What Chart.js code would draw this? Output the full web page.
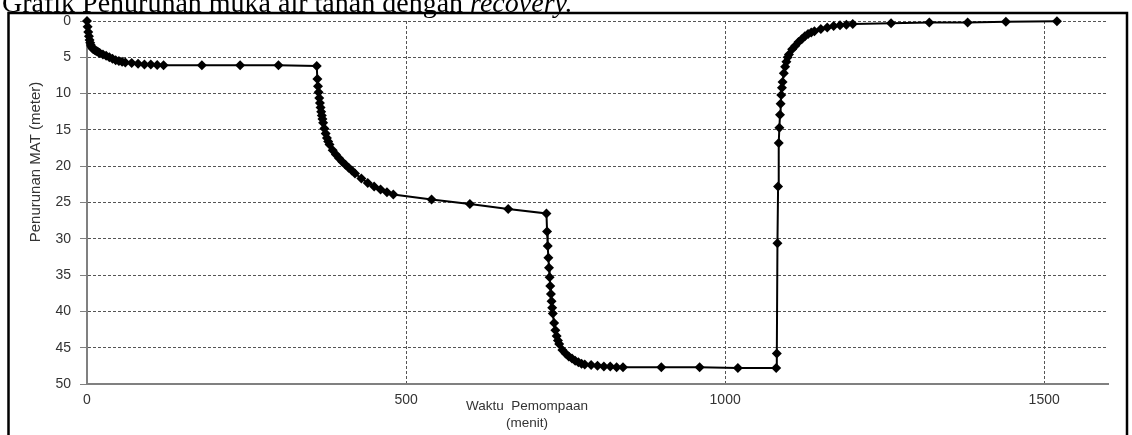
<!DOCTYPE html>
<html>
<head>
<meta charset="utf-8">
<script src="https://cdn.jsdelivr.net/npm/chart.js@4.4.1/dist/chart.umd.min.js"></script>
<style>
  html, body { margin: 0; padding: 0; background: #fff; }
  canvas { display: block; }
</style>
</head>
<body>
<canvas id="myChart" width="1132" height="435"></canvas>
<script>
// waktu pemompaan (menit) dan penurunan MAT (meter)
const waktu = [
  0, 1, 2, 3, 4, 5, 6, 7, 8, 9, 10, 12, 14, 16, 18, 20, 25, 30, 35, 40, 45, 50, 55, 60,
  70, 80, 90, 100, 110, 120, 180, 240, 300, 360,
  361, 362, 363, 364, 365, 366, 367, 368, 369, 370, 372, 374, 376, 378, 380,
  385, 390, 395, 400, 405, 410, 415, 420, 430, 440, 450, 460, 470, 480, 540, 600, 660, 720,
  721, 722, 723, 724, 725, 726, 727, 728, 729, 730, 732, 734, 736, 738, 740,
  745, 750, 755, 760, 765, 770, 775, 780, 790, 800, 810, 820, 830, 840, 900, 960, 1020, 1080,
  1081, 1082, 1083, 1084, 1085, 1086, 1087, 1088, 1089, 1090, 1092, 1094, 1096, 1098, 1100,
  1105, 1110, 1115, 1120, 1125, 1130, 1135, 1140, 1150, 1160, 1170, 1180, 1190, 1200,
  1260, 1320, 1380, 1440, 1520
];
const penurunan = [
  0, 0.8, 1.5, 2.1, 2.6, 3.0, 3.3, 3.5, 3.7, 3.8, 3.9, 4.0, 4.1, 4.2, 4.3, 4.4, 4.6, 4.8, 5.0, 5.2, 5.4, 5.5, 5.6, 5.7,
  5.8, 5.9, 6.0, 6.0, 6.05, 6.1, 6.1, 6.1, 6.1, 6.2,
  8.0, 9.0, 9.8, 10.6, 11.3, 11.9, 12.5, 13.0, 13.5, 14.0, 14.8, 15.5, 16.1, 16.6, 17.0,
  17.8, 18.4, 18.9, 19.4, 19.8, 20.2, 20.6, 21.0, 21.7, 22.3, 22.8, 23.2, 23.6, 23.9, 24.6, 25.2, 25.9, 26.5,
  29.0, 31.0, 32.6, 34.0, 35.3, 36.5, 37.6, 38.6, 39.5, 40.3, 41.6, 42.6, 43.4, 44.0, 44.5,
  45.3, 45.8, 46.2, 46.5, 46.8, 47.0, 47.2, 47.3, 47.4, 47.5, 47.6, 47.6, 47.7, 47.7, 47.7, 47.7, 47.8, 47.8,
  45.8, 30.6, 22.8, 16.8, 14.7, 12.9, 11.4, 10.2, 9.2, 8.4, 7.2, 6.3, 5.6, 5.0, 4.6,
  3.9, 3.4, 2.9, 2.5, 2.1, 1.8, 1.6, 1.4, 1.1, 0.9, 0.7, 0.6, 0.5, 0.4,
  0.3, 0.2, 0.2, 0.1, 0.05
];
const xTicks = [0, 500, 1000, 1500];
const yTicks = [0, 5, 10, 15, 20, 25, 30, 35, 40, 45, 50];

const judul = 'Grafik Penurunan muka air tanah dengan ';
const judulMiring = 'recovery.';
const judulY = 'Penurunan MAT (meter)';
const judulX = ['Waktu  Pemompaan', '(menit)'];

const points = waktu.map((t, i) => ({ x: t, y: penurunan[i] }));

const hiasan = {
  id: 'hiasan',
  beforeDraw(chart) {
    const c = chart.ctx;
    c.save();
    c.fillStyle = '#fff';
    c.fillRect(0, 0, chart.width, chart.height);
    c.restore();
  },
  afterDraw(chart) {
    const c = chart.ctx;
    c.save();
    // judul dokumen (terpotong di atas)
    c.fillStyle = '#000';
    c.textBaseline = 'alphabetic';
    c.font = '28px "Liberation Serif", "Times New Roman", serif';
    c.fillText(judul, 2, 12);
    const w = c.measureText(judul).width;
    c.font = 'italic 28px "Liberation Serif", "Times New Roman", serif';
    c.fillText(judulMiring, 2 + w, 12);

    // bingkai
    c.strokeStyle = '#000';
    c.lineWidth = 2.5;
    c.beginPath();
    c.moveTo(8.5, 440);
    c.lineTo(8.5, 13);
    c.lineTo(1127, 13);
    c.lineTo(1127, 440);
    c.stroke();

    // judul sumbu
    c.fillStyle = '#333';
    c.font = '13.5px "Liberation Sans", Arial, sans-serif';
    c.textAlign = 'center';
    c.textBaseline = 'middle';
    c.fillText(judulX[0], 527, 406);
    c.fillText(judulX[1], 527, 423);
    c.font = '15px "Liberation Sans", Arial, sans-serif';
    c.translate(36, 162);
    c.rotate(-Math.PI / 2);
    c.fillText(judulY, 0, 0);
    c.restore();
  }
};

const ctx = document.getElementById('myChart');

const chart = new Chart(ctx, {
  type: 'scatter',
  data: {
    datasets: [{
      data: points,
      showLine: true,
      borderColor: '#000',
      borderWidth: 2,
      backgroundColor: '#000',
      pointStyle: 'rectRot',
      pointRadius: 5,
      pointBorderWidth: 0,
      tension: 0,
      clip: false
    }]
  },
  options: {
    responsive: false,
    animation: false,
    layout: { padding: { top: 21, right: 24, left: 0, bottom: 0 } },
    plugins: {
      legend: { display: false },
      tooltip: { enabled: false }
    },
    scales: {
      x: {
        type: 'linear',
        min: 0,
        max: 1600,
        afterBuildTicks: s => { s.ticks = xTicks.map(v => ({ value: v })); },
        afterFit: s => { s.height = 51; },
        border: { color: '#808080', width: 2, dash: [3, 2] },
        grid: {
          drawTicks: false,
          lineWidth: 1,
          color: c => (c.tick && c.tick.value === 0) ? 'rgba(0,0,0,0)' : '#555'
        },
        ticks: {
          padding: 8,
          color: '#333',
          callback: v => String(v),
          font: { family: '"Liberation Sans", Arial, sans-serif', size: 14 }
        }
      },
      y: {
        reverse: true,
        min: 0,
        max: 50,
        afterBuildTicks: s => { s.ticks = yTicks.map(v => ({ value: v })); },
        afterFit: s => { s.width = 87; },
        border: { color: '#808080', width: 2, dash: [3, 2] },
        grid: {
          lineWidth: 1,
          tickLength: 7,
          tickColor: '#808080',
          tickBorderDash: [],
          color: c => (c.tick && c.tick.value === 50) ? 'rgba(0,0,0,0)' : '#555'
        },
        ticks: {
          padding: 9,
          color: '#333',
          callback: v => String(v),
          font: { family: '"Liberation Sans", Arial, sans-serif', size: 14 }
        }
      }
    }
  },
  plugins: [hiasan]
});
</script>
</body>
</html>
